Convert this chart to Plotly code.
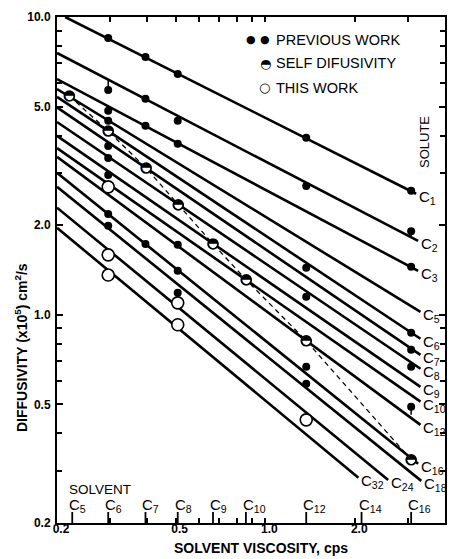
import math
import plotly.graph_objects as go

# ---------------- data ----------------
solvent_names = ["C<sub>5</sub>", "C<sub>6</sub>", "C<sub>7</sub>", "C<sub>8</sub>", "C<sub>9</sub>",
                 "C<sub>10</sub>", "C<sub>12</sub>", "C<sub>14</sub>", "C<sub>16</sub>"]
solvent_visc = [0.225, 0.297, 0.396, 0.508, 0.667, 0.86, 1.37, 2.1, 3.08]

solute_names = ["C<sub>1</sub>", "C<sub>2</sub>", "C<sub>3</sub>", "C<sub>5</sub>", "C<sub>6</sub>",
                "C<sub>7</sub>", "C<sub>8</sub>", "C<sub>9</sub>", "C<sub>10</sub>", "C<sub>12</sub>",
                "C<sub>16</sub>", "C<sub>18</sub>", "C<sub>24</sub>", "C<sub>32</sub>"]
line_x0 = [0.213, 0.2, 0.2, 0.2, 0.2, 0.2, 0.2, 0.2, 0.2, 0.2, 0.2, 0.2, 0.2, 0.2]
line_y0 = [10.0, 7.57, 6.19, 5.73, 5.39, 4.97, 4.44, 3.99, 3.63, 3.39, 3.00, 2.69, 2.29, 1.96]
line_x1 = [3.20, 3.25, 3.25, 3.31, 3.31, 3.31, 3.31, 3.31, 3.31, 3.31, 3.25, 3.33, 2.58, 2.05]
line_y1 = [2.55, 1.77, 1.405, 1.023, 0.831, 0.734, 0.659, 0.573, 0.511, 0.427, 0.316, 0.277, 0.279, 0.284]

prev_x = [0.297] * 9 + [0.396] * 4 + [0.508] * 6 + [1.37] * 6 + [3.08] * 7
prev_y = [8.50, 5.69, 4.84, 4.48, 3.69, 3.36, 2.95, 2.18, 1.99,
          7.34, 5.31, 4.31, 1.73,
          6.44, 4.48, 3.75, 1.72, 1.405, 1.185,
          3.93, 2.71, 1.44, 1.149, 0.669, 0.587,
          2.61, 1.91, 1.45, 0.870, 0.763, 0.669, 0.491]

stem_x = [0.297, 3.08, 3.08]
stem_y_dot = [5.69, 1.91, 0.491]
stem_y_line = [6.14, 1.83, 0.462]

this_x = [0.297, 0.297, 0.297, 0.508, 0.508, 1.37]
this_y = [2.69, 1.59, 1.36, 1.097, 0.926, 0.444]

self_x = [0.22, 0.297, 0.398, 0.51, 0.667, 0.862, 1.37, 3.08]
self_y = [5.43, 4.14, 3.11, 2.34, 1.73, 1.31, 0.818, 0.326]

x_ticks = [0.2, 0.5, 1.0, 2.0, 4.0]
x_tick_text = ["0.2", "0.5", "1.0", "2.0", "4.0"]
x_minor = [0.3, 0.4, 0.6, 0.7, 0.8, 0.9, 3.0]
y_ticks = [0.2, 0.5, 1.0, 2.0, 5.0, 10.0]
y_tick_text = ["0.2", "0.5", "1.0", "2.0", "5.0", "10.0"]
y_minor = [0.3, 0.4, 0.6, 0.7, 0.8, 0.9, 3, 4, 6, 7, 8, 9]

FONT = "Liberation Sans, Arial, sans-serif"
ML, MR, MT, MB = 57, 7, 17, 36
W, H = 452, 559
PW, PH = W - ML - MR, H - MT - MB


def px(xp):
    return (xp - ML) / PW


def py(yp):
    return (H - MB - yp) / PH


def paper_text(x, y, text, size, family=FONT, weight="normal", angle=0, xanchor="center"):
    return dict(x=px(x), y=py(y), xref="paper", yref="paper", text=text, showarrow=False,
                xanchor=xanchor, yanchor="middle", textangle=angle,
                font=dict(family=family, size=size, color="black", weight=weight))


fig = go.Figure()

# solute lines
for i in range(len(solute_names)):
    fig.add_trace(go.Scatter(x=[line_x0[i], line_x1[i]], y=[line_y0[i], line_y1[i]],
                             mode="lines", line=dict(color="black", width=2.6),
                             showlegend=False, hoverinfo="skip"))

# dashed self-diffusivity line
fig.add_trace(go.Scatter(x=self_x, y=self_y, mode="lines",
                         line=dict(color="black", width=1.3, dash="5px,4px"),
                         showlegend=False, hoverinfo="skip"))

# stems
sx, sy = [], []
for i in range(len(stem_x)):
    sx += [stem_x[i], stem_x[i], None]
    sy += [stem_y_dot[i], stem_y_line[i], None]
fig.add_trace(go.Scatter(x=sx, y=sy, mode="lines", line=dict(color="black", width=1.5),
                         showlegend=False, hoverinfo="skip"))

# previous work
fig.add_trace(go.Scatter(x=prev_x, y=prev_y, mode="markers",
                         marker=dict(symbol="circle", size=8, color="black"),
                         showlegend=False, hoverinfo="skip"))
# this work
fig.add_trace(go.Scatter(x=this_x, y=this_y, mode="markers",
                         marker=dict(symbol="circle", size=12, color="white",
                                     line=dict(color="black", width=1.6)),
                         showlegend=False, hoverinfo="skip"))
# self diffusivity (half-filled circles)
fig.add_trace(go.Scatter(x=self_x, y=self_y, mode="markers",
                         marker=dict(symbol="circle", size=10, color="white",
                                     line=dict(color="black", width=1.6)),
                         showlegend=False, hoverinfo="skip"))
fig.add_trace(go.Scatter(x=self_x, y=self_y, mode="text", text=["◓"] * len(self_x),
                         textposition="middle center",
                         textfont=dict(family="DejaVu Sans", size=13, color="black"),
                         showlegend=False, hoverinfo="skip"))

annotations = []
shapes = []
# solute labels
for i in range(len(solute_names)):
    annotations.append(dict(x=math.log10(line_x1[i]), y=math.log10(line_y1[i]), xref="x", yref="y",
                            text=solute_names[i], showarrow=False, xanchor="left", yanchor="middle",
                            xshift=1, yshift=-4, font=dict(family=FONT, size=15, color="black")))
# solvent labels + ticks
for i in range(len(solvent_names)):
    annotations.append(dict(x=math.log10(solvent_visc[i]), y=math.log10(0.2), xref="x", yref="y",
                            text=solvent_names[i], showarrow=False, xanchor="left", yanchor="bottom",
                            xshift=-5, yshift=6, font=dict(family=FONT, size=15, color="black")))
    shapes.append(dict(type="line", xref="x", yref="y domain", x0=solvent_visc[i], x1=solvent_visc[i],
                       ysizemode="pixel", yanchor=0, y0=0, y1=11,
                       line=dict(color="black", width=1.8)))

annotations.append(paper_text(100, 489, "SOLVENT", 13.5))
annotations.append(paper_text(424, 142, "SOLUTE", 13, angle=-90))
# legend
leg_rows = [("PREVIOUS WORK", 40), ("SELF DIFUSIVITY", 63), ("THIS WORK", 88)]
for txt, yy in leg_rows:
    annotations.append(paper_text(274, yy, txt, 14.5, xanchor="left"))
annotations.append(paper_text(251, 40, "●", 11, family="DejaVu Sans"))
annotations.append(paper_text(265, 40, "●", 11, family="DejaVu Sans"))
annotations.append(paper_text(265, 63, "◓", 13, family="DejaVu Sans"))
annotations.append(paper_text(264, 88, "○", 13, family="DejaVu Sans"))

# axis titles
annotations.append(paper_text(261, 548, "SOLVENT VISCOSITY, cps", 14, weight="bold"))
annotations.append(paper_text(21, 348, "DIFFUSIVITY (x10<sup>5</sup>) cm<sup>2</sup>/s", 14,
                              weight="bold", angle=-90))

fig.update_layout(
    width=W, height=H,
    margin=dict(l=ML, r=MR, t=MT, b=MB, autoexpand=False),
    plot_bgcolor="white", paper_bgcolor="white",
    annotations=annotations, shapes=shapes,
    showlegend=False,
)
fig.update_xaxes(type="log", range=[math.log10(0.2), math.log10(4.0)], automargin=False,
                 tickvals=x_ticks, ticktext=x_tick_text, ticks="inside", ticklen=5,
                 tickwidth=1.5, tickcolor="black", ticklabelstandoff=-6, ticklabelshift=4,
                 minor=dict(tickvals=x_minor, ticks="inside", ticklen=5, tickwidth=1.5, tickcolor="black"),
                 showgrid=False, zeroline=False, showline=True, linecolor="black", linewidth=2,
                 mirror="ticks", tickfont=dict(family=FONT, size=12, color="black", weight="bold"))
fig.update_yaxes(type="log", range=[math.log10(0.2), math.log10(10.0)], automargin=False,
                 tickvals=y_ticks, ticktext=y_tick_text, ticks="inside", ticklen=6,
                 tickwidth=1.5, tickcolor="black", ticklabelstandoff=2,
                 minor=dict(tickvals=y_minor, ticks="inside", ticklen=5, tickwidth=1.5, tickcolor="black"),
                 showgrid=False, zeroline=False, showline=True, linecolor="black", linewidth=2,
                 mirror="ticks", tickfont=dict(family=FONT, size=12, color="black", weight="bold"))

fig.write_html("out.html")
